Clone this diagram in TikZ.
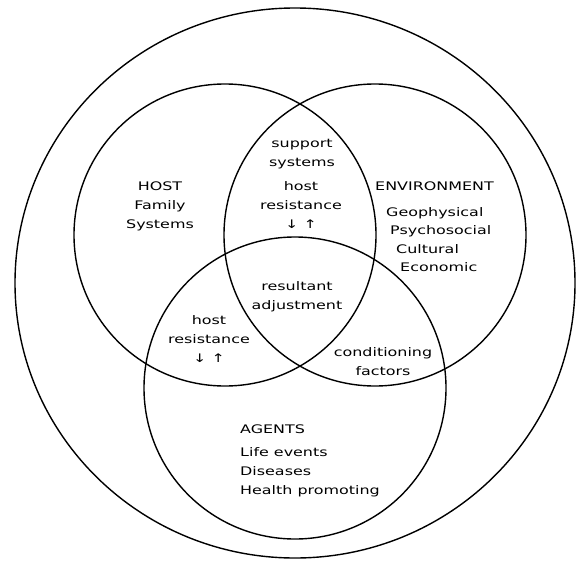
\documentclass[tikz,border=0pt]{standalone}
\usepackage{fontspec}
\setmainfont{DejaVu Sans}[FakeStretch=1.35]
\begin{document}
\begin{tikzpicture}[x=1pt,y=-1pt,
  ring/.style={draw=black,line width=1.4pt},
  lbl/.style={font=\fontsize{11.8}{19}\selectfont,align=center,inner sep=0pt,text=black}]
\useasboundingbox[fill=white] (0,0) rectangle (580,562);
\draw[ring] (295,283) ellipse [x radius=280,y radius=275];
\draw[ring] (225,235) circle [radius=151];
\draw[ring] (375,235) circle [radius=151];
\draw[ring] (295,388) circle [radius=151];
% host
\node[lbl] (host) at (160,206) {HOST\\Family\\Systems};
% environment
\node[lbl,anchor=west] (env) at (375,186) {ENVIRONMENT};
\node[lbl,anchor=west] (geo) at (386,213) {Geophysical};
\node[lbl,anchor=west] (psy) at (390,231) {Psychosocial};
\node[lbl,anchor=west] (cul) at (396,249) {Cultural};
\node[lbl,anchor=west] (eco) at (400,267) {Economic};
% overlaps
\node[lbl] (sup) at (302,154) {support\\systems};
\node[lbl] (hr1) at (301,205) {host\\resistance\\↓ ↑};
\node[lbl] (res) at (297,297) {resultant\\adjustment};
\node[lbl] (hr2) at (209,339) {host\\resistance\\↓ ↑};
\node[lbl] (cond) at (383,362) {conditioning\\factors};
% agents
\node[lbl,anchor=west] (ag) at (240,429) {AGENTS};
\node[lbl,anchor=north west,align=left] (agl) at (240,447) {Life events\\Diseases\\Health promoting};
\end{tikzpicture}
\end{document}
